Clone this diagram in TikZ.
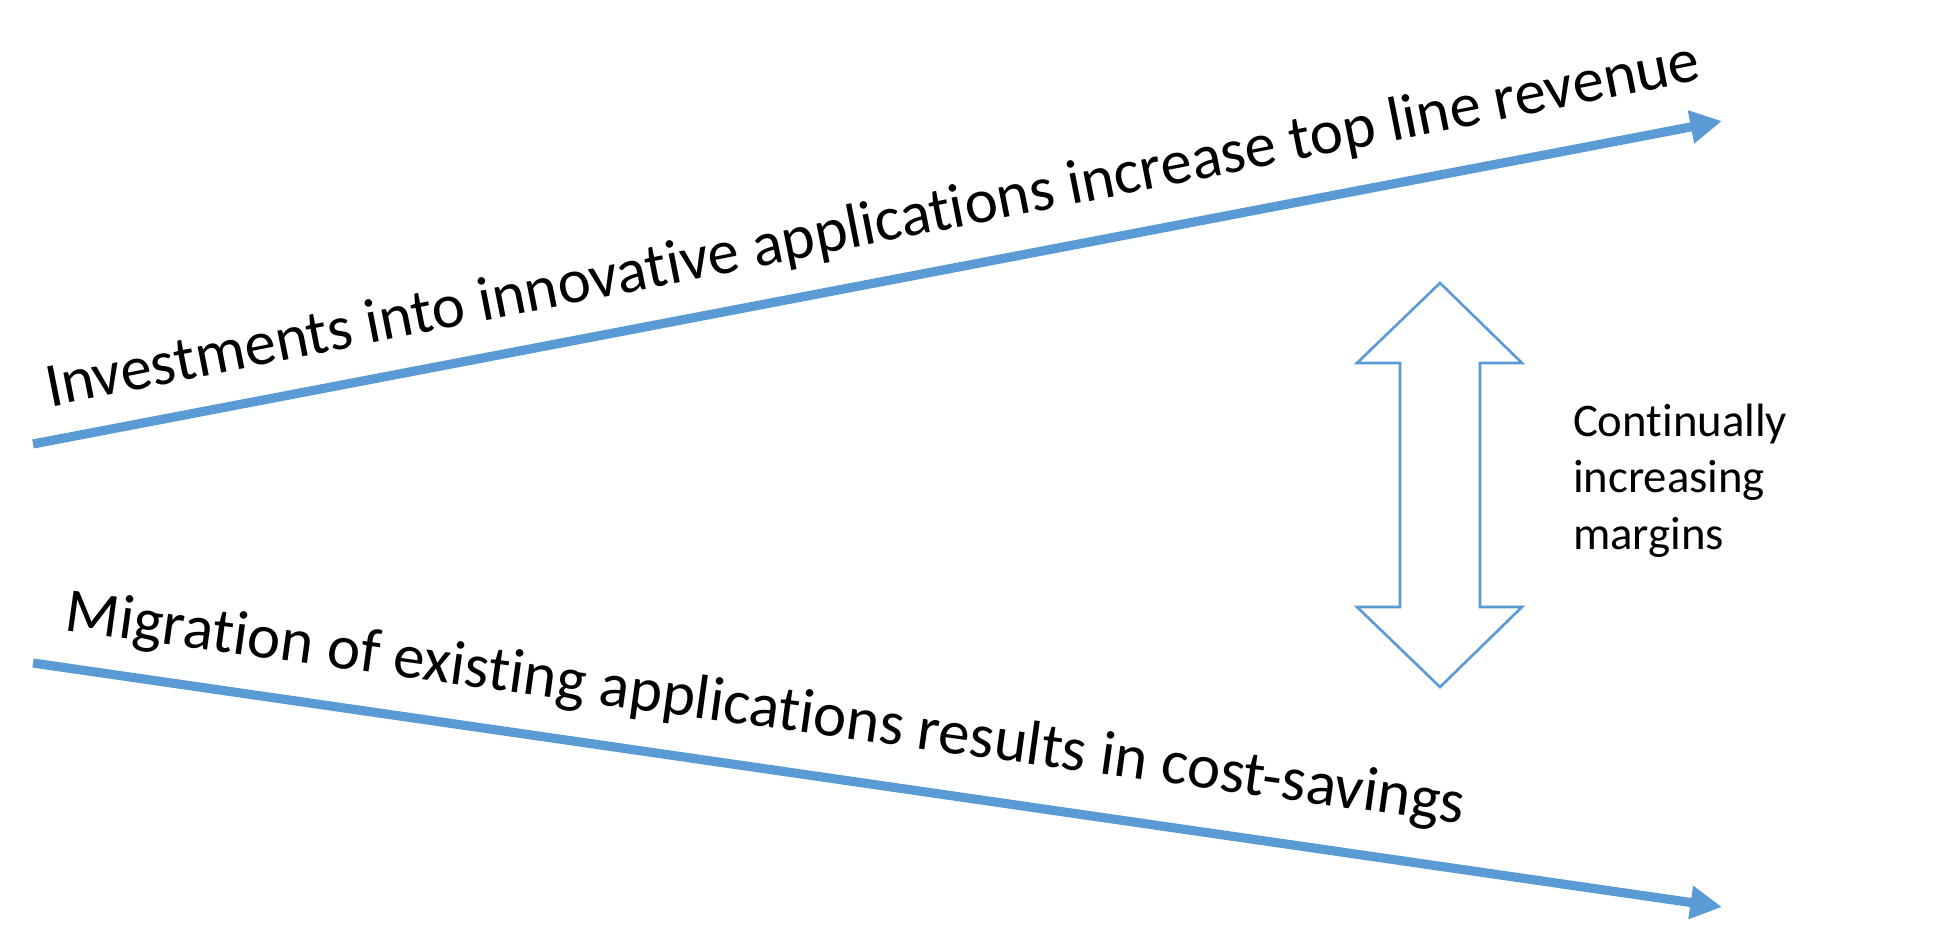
\documentclass[tikz,border=0pt]{standalone}
\usepackage{fontspec}
\setmainfont{Carlito}[Ligatures=NoCommon]
\usetikzlibrary{arrows.meta}
\definecolor{lineblue}{HTML}{5B9BD5}

\begin{document}
\begin{tikzpicture}[x=0.1mm, y=-0.1mm, every node/.style={inner sep=0pt, outer sep=0pt}]
  \tikzset{trend/.style={lineblue, line width=2.6pt, -{Triangle[length=9pt,width=9pt]}},
    slogan/.style={anchor=base west, font=\fontsize{17.9}{21}\selectfont}}
  \useasboundingbox (0,0) rectangle (1950,940);
  % the two trend lines
  \coordinate (up start) at (33,444);
  \coordinate (up end) at (1722,121);
  \coordinate (down start) at (33,663);
  \coordinate (down end) at (1722,907);
  \draw[trend] (up start) -- (up end);
  \draw[trend] (down start) -- (down end);
  \node[slogan, rotate=11.2] (invest) at (50,407) {Investments into innovative applications increase top line revenue};
  \node[slogan, rotate=-7.9] (migrate) at (64,630) {Migration of existing applications results in cost-savings};
  % margin gap
  \draw[lineblue, line width=0.75pt, line join=miter]
    (1440,283) -- (1522,363) -- (1480,363) -- (1480,607) -- (1522,607) -- (1440,687)
    -- (1357,607) -- (1400,607) -- (1400,363) -- (1357,363) -- cycle;
  \node[anchor=base west, align=left, font=\fontsize{13.3}{16}\selectfont] (margins) at (1573,549)
    {Continually\\increasing\\margins};
\end{tikzpicture}
\end{document}
